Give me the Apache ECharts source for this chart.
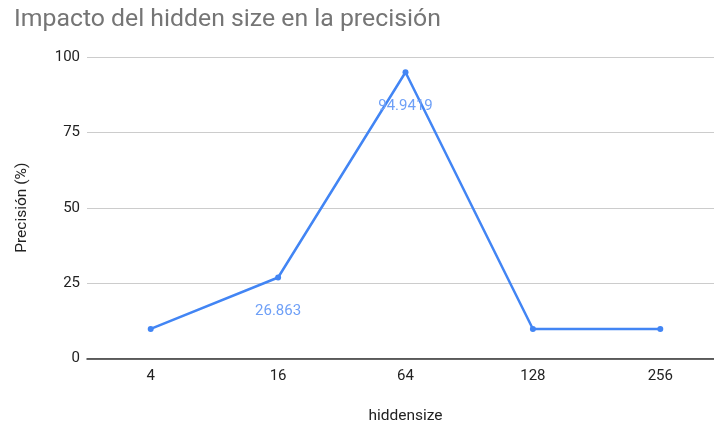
<!DOCTYPE html>
<html>
<head>
<meta charset="utf-8">
<script src="https://cdn.jsdelivr.net/npm/echarts@6/dist/echarts.min.js"></script>
<style>
  html, body { margin: 0; padding: 0; background: #fff; }
  #chart { width: 714px; height: 425px; }
</style>
</head>
<body>
<div id="chart"></div>
<script>
// Hidden-size sweep and the accuracy obtained for each setting
const hiddenSizes = ['4', '16', '64', '128', '256'];
const precision = [9.8, 26.863, 94.9419, 9.8, 9.8];
const labelled = [false, true, true, false, false];
const yTicks = [0, 25, 50, 75, 100];

const chart = echarts.init(document.getElementById('chart'));
const font = 'Roboto, Arial, sans-serif';

chart.setOption({
  animation: false,
  title: {
    text: 'Impacto del hidden size en la precisión',
    left: 9,
    top: 2,
    textStyle: { fontFamily: font, fontSize: 24.8, fontWeight: 'normal', color: '#757575' }
  },
  // the plot runs a little past the right edge of the canvas
  grid: { left: 87, width: 637, top: 57, bottom: 66.5, outerBoundsMode: 'none', containLabel: false },
  xAxis: {
    type: 'category',
    data: hiddenSizes,
    boundaryGap: true,
    name: 'hiddensize',
    nameLocation: 'middle',
    nameGap: 50,
    nameTextStyle: { fontFamily: font, fontSize: 15.5, color: '#222' },
    axisLine: { lineStyle: { color: '#333', width: 1.5 } },
    axisTick: { show: false },
    axisLabel: { fontFamily: font, fontSize: 15, color: '#222', margin: 10 }
  },
  yAxis: {
    type: 'value',
    min: yTicks[0],
    max: yTicks[yTicks.length - 1],
    interval: 25,
    name: 'Precisión (%)',
    nameLocation: 'middle',
    nameGap: 57,
    nameTextStyle: { fontFamily: font, fontSize: 15.5, color: '#222' },
    axisLine: { show: false },
    axisTick: { show: false },
    axisLabel: { fontFamily: font, fontSize: 15, color: '#222', margin: 7 },
    splitLine: { lineStyle: { color: '#cccccc', width: 1 } }
  },
  series: [{
    type: 'line',
    data: precision.map((v, i) => ({
      value: v,
      label: { show: labelled[i] }
    })),
    symbol: 'circle',
    symbolSize: 6,
    lineStyle: { color: '#4285f4', width: 2.5 },
    itemStyle: { color: '#4285f4' },
    label: {
      position: 'bottom',
      distance: 23.5,
      fontFamily: font,
      fontSize: 15,
      color: '#6fa0f7'
    }
  }]
});
</script>
</body>
</html>
